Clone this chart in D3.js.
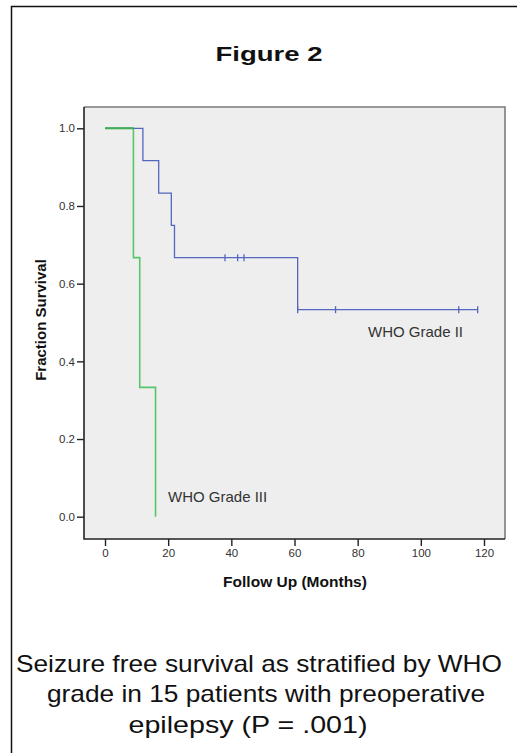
<!DOCTYPE html>
<html><head><meta charset="utf-8">
<script src="https://cdn.jsdelivr.net/npm/d3@7"></script>
<style>body{margin:0;background:#fff}svg{display:block}</style>
</head><body>
<script>
// Kaplan-Meier data (months, survival fraction)
const gradeIITimes    = [0, 12, 17, 21, 22, 61];
const gradeIISurv     = [1.0, 0.917, 0.833, 0.75, 0.667, 0.533];
const gradeIIEnd      = 118;
const gradeIICensorT  = [38, 42, 44, 61, 73, 112, 118];
const gradeIICensorS  = [0.667, 0.667, 0.667, 0.533, 0.533, 0.533, 0.533];
const gradeIIITimes   = [0, 9, 11, 16];
const gradeIIISurv    = [1.0, 0.667, 0.333, 0.0];
const xTicks = [0, 20, 40, 60, 80, 100, 120];
const yTicks = [0.0, 0.2, 0.4, 0.6, 0.8, 1.0];
const captionLines = ["Seizure free survival as stratified by WHO",
                      "grade in 15 patients with preoperative",
                      "epilepsy (P = .001)"];

const W = 517, H = 753;
const svg = d3.select("body").append("svg").attr("width", W).attr("height", H);
svg.append("rect").attr("width", W).attr("height", H).attr("fill", "#fff");
svg.append("rect").attr("x", 11.5).attr("y", 6.5).attr("width", 520).attr("height", 760)
  .attr("fill", "none").attr("stroke", "#111").attr("stroke-width", 1.5);

const font = "Liberation Sans, Arial, sans-serif";
svg.append("text").attr("x", 269).attr("y", 61).attr("text-anchor", "middle")
  .attr("font-family", font).attr("font-weight", "bold")
  .attr("font-size", 21).attr("textLength", 107).attr("lengthAdjust", "spacingAndGlyphs")
  .attr("fill", "#111").text("Figure 2");

const x = d3.scaleLinear().domain([0, 120]).range([105, 484]);
const y = d3.scaleLinear().domain([0, 1]).range([516.7, 128.3]);
const box = {l: 84, t: 107, r: 505, b: 539};

svg.append("rect").attr("x", box.l).attr("y", box.t).attr("width", box.r - box.l).attr("height", box.b - box.t)
  .attr("fill", "#eeeeee");
svg.append("path").attr("d", `M${box.l},${box.t}H${box.r}V${box.b}`).attr("fill", "none")
  .attr("stroke", "#7a7a7a").attr("stroke-width", 1.6);
svg.append("path").attr("d", `M${box.l},${box.t}V${box.b}H${box.r}`).attr("fill", "none")
  .attr("stroke", "#222").attr("stroke-width", 1.6);

const yAxis = d3.axisLeft(y).tickValues(yTicks).tickFormat(d3.format(".1f")).tickSize(7).tickPadding(2);
const gy = svg.append("g").attr("transform", `translate(${box.l},0)`).call(yAxis);
gy.select(".domain").remove();
gy.selectAll("line").attr("stroke", "#222").attr("stroke-width", 1.4);
gy.selectAll("text").attr("font-family", font).attr("font-size", 11.5).attr("fill", "#333");

const xAxis = d3.axisBottom(x).tickValues(xTicks).tickFormat(d3.format("d")).tickSize(7).tickPadding(3);
const gx = svg.append("g").attr("transform", `translate(0,${box.b})`).call(xAxis);
gx.select(".domain").remove();
gx.selectAll("line").attr("stroke", "#222").attr("stroke-width", 1.4);
gx.selectAll("text").attr("font-family", font).attr("font-size", 11.5).attr("fill", "#333");

svg.append("text").attr("transform", `translate(46,320) rotate(-90)`)
  .attr("text-anchor", "middle").attr("font-family", font).attr("font-weight", "bold")
  .attr("font-size", 15).attr("fill", "#111").text("Fraction Survival");
svg.append("text").attr("x", 295).attr("y", 587).attr("text-anchor", "middle")
  .attr("font-family", font).attr("font-weight", "bold").attr("font-size", 15.5)
  .attr("fill", "#111").text("Follow Up (Months)");

function stepPts(times, surv, end) {
  const pts = [];
  for (let i = 0; i < times.length; i++) {
    if (i > 0) pts.push([times[i], surv[i - 1]]);
    pts.push([times[i], surv[i]]);
  }
  if (end !== undefined) pts.push([end, surv[surv.length - 1]]);
  return pts;
}
const line = d3.line().x(d => x(d[0])).y(d => y(d[1]));

svg.append("path").datum(stepPts(gradeIIITimes, gradeIIISurv))
  .attr("d", line).attr("fill", "none").attr("stroke", "#55c768").attr("stroke-width", 1.6);
svg.append("path").datum(stepPts(gradeIITimes, gradeIISurv, gradeIIEnd))
  .attr("d", line).attr("fill", "none").attr("stroke", "#5467be").attr("stroke-width", 1.3);
svg.append("path").datum([[gradeIIITimes[0], 1], [gradeIIITimes[1], 1]])
  .attr("d", line).attr("fill", "none").attr("stroke", "#3fae57").attr("stroke-width", 2);

svg.selectAll(".cens").data(gradeIICensorT.map((t, i) => [t, gradeIICensorS[i]])).enter()
  .append("line").attr("x1", d => x(d[0])).attr("x2", d => x(d[0]))
  .attr("y1", d => y(d[1]) - 3.5).attr("y2", d => y(d[1]) + 3.5)
  .attr("stroke", "#5467be").attr("stroke-width", 1.3);

svg.append("text").attr("x", 368).attr("y", 337).attr("font-family", font).attr("font-size", 15)
  .attr("fill", "#333").text("WHO Grade II");
svg.append("text").attr("x", 168).attr("y", 502).attr("font-family", font).attr("font-size", 15)
  .attr("fill", "#333").text("WHO Grade III");

const capLayout = [{cx: 259, y: 672, len: 486}, {cx: 266, y: 702, len: 438}, {cx: 248, y: 733, len: 239}];
svg.selectAll(".cap").data(captionLines).enter().append("text")
  .attr("x", (d, i) => capLayout[i].cx).attr("y", (d, i) => capLayout[i].y).attr("text-anchor", "middle")
  .attr("textLength", (d, i) => capLayout[i].len).attr("lengthAdjust", "spacingAndGlyphs")
  .attr("font-family", font).attr("font-size", 24).attr("fill", "#111").text(d => d);
</script>
</body></html>
